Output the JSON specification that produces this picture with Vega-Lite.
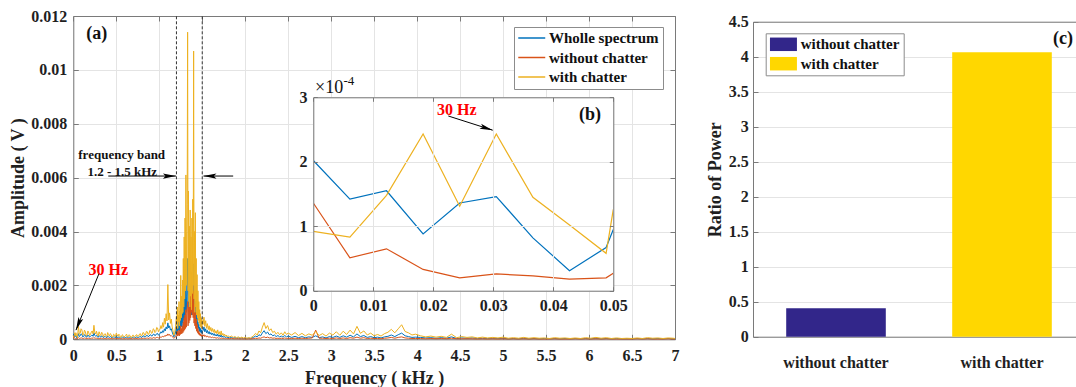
{
"$schema":"https://vega.github.io/schema/vega-lite/v6.json",
"width":1076,"height":387,"autosize":{"type":"none"},"padding":0,"background":"#ffffff",
"config":{"view":{"stroke":null},"font":"Liberation Serif",
"axis":{"labelFont":"Liberation Serif","labelFontWeight":"bold","labelFontSize":16,"labelColor":"#1f1f1f","titleFont":"Liberation Serif","titleFontWeight":"bold","titleFontSize":18,"titleColor":"#1f1f1f","domainColor":"#7a7a7a","tickColor":"#7a7a7a","gridColor":"#e4e4e4","labelFlush":false,"labelOverlap":false,"domainWidth":1,"tickWidth":1,"gridWidth":1},
"text":{"font":"Liberation Serif","fontWeight":"bold"}},
"datasets":{
"spec":[
{"f":0,"w":2.02,"o":1.36,"c":0.92},
{"f":0.0061,"w":1.42,"o":0.51,"c":0.83},
{"f":0.0122,"w":1.55,"o":0.65,"c":1.48},
{"f":0.0183,"w":0.88,"o":0.33,"c":2.43},
{"f":0.0244,"w":1.36,"o":0.2,"c":1.31},
{"f":0.0305,"w":1.46,"o":0.26,"c":2.43},
{"f":0.0366,"w":0.82,"o":0.23,"c":1.45},
{"f":0.0427,"w":0.31,"o":0.18,"c":1.02},
{"f":0.0488,"w":0.67,"o":0.2,"c":0.58},
{"f":0.05,"w":0.95,"o":0.27,"c":1.26},
{"f":0.06,"w":2.1,"o":0.6,"c":4.8},
{"f":0.07,"w":1.0,"o":0.3,"c":1.9},
{"f":0.08,"w":1.3,"o":0.4,"c":2.2},
{"f":0.09,"w":2.0,"o":0.5,"c":3.9},
{"f":0.1,"w":1.8,"o":0.5,"c":3.5},
{"f":0.11,"w":0.9,"o":0.3,"c":1.6},
{"f":0.12,"w":1.0,"o":0.3,"c":1.8},
{"f":0.13,"w":1.7,"o":0.5,"c":3.4},
{"f":0.14,"w":1.5,"o":0.4,"c":2.9},
{"f":0.15,"w":0.8,"o":0.3,"c":1.3},
{"f":0.16,"w":0.9,"o":0.3,"c":1.5},
{"f":0.17,"w":1.6,"o":0.4,"c":3.1},
{"f":0.18,"w":1.3,"o":0.4,"c":2.4},
{"f":0.19,"w":0.8,"o":0.3,"c":1.4},
{"f":0.2,"w":1.1,"o":0.3,"c":1.9},
{"f":0.21,"w":1.4,"o":0.4,"c":2.7},
{"f":0.22,"w":1.6,"o":0.5,"c":3.1},
{"f":0.23,"w":1.1,"o":0.3,"c":2.0},
{"f":0.24,"w":2.4,"o":0.7,"c":5.2},
{"f":0.25,"w":1.4,"o":0.4,"c":2.6},
{"f":0.26,"w":1.2,"o":0.4,"c":2.0},
{"f":0.27,"w":1.5,"o":0.4,"c":3.0},
{"f":0.28,"w":0.9,"o":0.3,"c":1.6},
{"f":0.29,"w":0.7,"o":0.2,"c":1.2},
{"f":0.3,"w":1.4,"o":0.4,"c":2.8},
{"f":0.31,"w":1.0,"o":0.3,"c":1.9},
{"f":0.32,"w":0.8,"o":0.3,"c":1.4},
{"f":0.33,"w":1.3,"o":0.4,"c":2.6},
{"f":0.34,"w":1.1,"o":0.3,"c":2.2},
{"f":0.35,"w":0.6,"o":0.2,"c":1.0},
{"f":0.36,"w":0.9,"o":0.3,"c":1.7},
{"f":0.37,"w":1.1,"o":0.3,"c":2.1},
{"f":0.38,"w":0.7,"o":0.2,"c":1.3},
{"f":0.39,"w":0.6,"o":0.2,"c":1.0},
{"f":0.4,"w":1.2,"o":0.4,"c":2.5},
{"f":0.41,"w":0.9,"o":0.3,"c":1.7},
{"f":0.42,"w":0.7,"o":0.2,"c":1.2},
{"f":0.43,"w":1.0,"o":0.3,"c":2.1},
{"f":0.44,"w":0.9,"o":0.3,"c":1.8},
{"f":0.45,"w":0.5,"o":0.2,"c":0.8},
{"f":0.46,"w":0.6,"o":0.2,"c":1.0},
{"f":0.47,"w":0.9,"o":0.3,"c":1.9},
{"f":0.48,"w":0.8,"o":0.3,"c":1.6},
{"f":0.49,"w":0.5,"o":0.2,"c":0.9},
{"f":0.5,"w":1.1,"o":0.3,"c":2.3},
{"f":0.51,"w":0.8,"o":0.3,"c":1.6},
{"f":0.52,"w":0.6,"o":0.2,"c":1.1},
{"f":0.53,"w":0.9,"o":0.3,"c":1.9},
{"f":0.54,"w":0.8,"o":0.3,"c":1.5},
{"f":0.55,"w":0.4,"o":0.2,"c":0.7},
{"f":0.56,"w":0.5,"o":0.2,"c":0.9},
{"f":0.57,"w":0.8,"o":0.2,"c":1.7},
{"f":0.58,"w":0.7,"o":0.2,"c":1.4},
{"f":0.59,"w":0.4,"o":0.2,"c":0.8},
{"f":0.6,"w":0.6,"o":0.2,"c":1.2},
{"f":0.61,"w":0.7,"o":0.2,"c":1.5},
{"f":0.62,"w":0.9,"o":0.3,"c":1.9},
{"f":0.63,"w":0.5,"o":0.2,"c":0.9},
{"f":0.64,"w":0.5,"o":0.2,"c":1.0},
{"f":0.65,"w":0.8,"o":0.3,"c":1.7},
{"f":0.66,"w":0.7,"o":0.2,"c":1.3},
{"f":0.67,"w":0.4,"o":0.2,"c":0.7},
{"f":0.68,"w":0.5,"o":0.2,"c":0.8},
{"f":0.69,"w":0.7,"o":0.2,"c":1.5},
{"f":0.7,"w":0.8,"o":0.3,"c":1.5},
{"f":0.71,"w":0.5,"o":0.2,"c":0.8},
{"f":0.72,"w":0.6,"o":0.2,"c":1.1},
{"f":0.73,"w":0.8,"o":0.3,"c":1.6},
{"f":0.74,"w":0.9,"o":0.3,"c":1.7},
{"f":0.75,"w":0.6,"o":0.2,"c":1.0},
{"f":0.76,"w":0.7,"o":0.2,"c":1.2},
{"f":0.77,"w":0.9,"o":0.3,"c":1.9},
{"f":0.78,"w":1.1,"o":0.4,"c":2.1},
{"f":0.79,"w":0.7,"o":0.2,"c":1.3},
{"f":0.8,"w":0.8,"o":0.3,"c":1.4},
{"f":0.81,"w":1.2,"o":0.4,"c":2.5},
{"f":0.82,"w":1.3,"o":0.4,"c":2.4},
{"f":0.83,"w":0.8,"o":0.3,"c":1.5},
{"f":0.84,"w":0.9,"o":0.3,"c":1.6},
{"f":0.85,"w":1.4,"o":0.4,"c":2.9},
{"f":0.86,"w":1.5,"o":0.5,"c":2.8},
{"f":0.87,"w":1.0,"o":0.3,"c":1.8},
{"f":0.88,"w":1.1,"o":0.4,"c":2.0},
{"f":0.89,"w":1.6,"o":0.5,"c":3.3},
{"f":0.9,"w":1.7,"o":0.5,"c":3.2},
{"f":0.91,"w":1.2,"o":0.4,"c":2.2},
{"f":0.92,"w":1.3,"o":0.4,"c":2.4},
{"f":0.93,"w":1.9,"o":0.6,"c":3.9},
{"f":0.94,"w":1.9,"o":0.6,"c":3.6},
{"f":0.95,"w":1.3,"o":0.4,"c":2.5},
{"f":0.96,"w":1.6,"o":0.5,"c":2.9},
{"f":0.97,"w":2.1,"o":0.7,"c":4.4},
{"f":0.98,"w":2.2,"o":0.7,"c":4.2},
{"f":0.99,"w":1.5,"o":0.5,"c":2.8},
{"f":1.0,"w":1.9,"o":0.6,"c":3.4},
{"f":1.01,"w":2.1,"o":0.7,"c":3.8},
{"f":1.02,"w":2.8,"o":0.9,"c":5.1},
{"f":1.03,"w":2.3,"o":0.8,"c":4.0},
{"f":1.04,"w":3.2,"o":1.1,"c":6.2},
{"f":1.05,"w":2.6,"o":0.9,"c":4.5},
{"f":1.06,"w":3.9,"o":1.3,"c":7.8},
{"f":1.07,"w":3.1,"o":1.1,"c":5.6},
{"f":1.08,"w":4.6,"o":1.6,"c":9.5},
{"f":1.09,"w":3.8,"o":1.3,"c":6.8},
{"f":1.1,"w":6.1,"o":2.0,"c":20.3},
{"f":1.11,"w":4.2,"o":1.5,"c":7.2},
{"f":1.12,"w":5.0,"o":1.8,"c":9.8},
{"f":1.13,"w":3.4,"o":1.2,"c":5.9},
{"f":1.14,"w":3.9,"o":1.4,"c":7.5},
{"f":1.15,"w":2.7,"o":1.0,"c":4.6},
{"f":1.16,"w":1.8,"o":0.7,"c":3.1},
{"f":1.17,"w":0.9,"o":0.4,"c":1.5},
{"f":1.18,"w":1.5,"o":0.6,"c":2.6},
{"f":1.19,"w":2.7,"o":1.0,"c":4.8},
{"f":1.2,"w":4.6,"o":1.8,"c":8.5},
{"f":1.205,"w":3.0,"o":1.5,"c":5.5},
{"f":1.21,"w":6.5,"o":3.0,"c":12.0},
{"f":1.215,"w":2.5,"o":1.2,"c":4.0},
{"f":1.22,"w":5.0,"o":2.5,"c":9.0},
{"f":1.225,"w":3.5,"o":1.5,"c":6.5},
{"f":1.23,"w":7.0,"o":3.5,"c":14.0},
{"f":1.235,"w":3.0,"o":1.3,"c":5.0},
{"f":1.24,"w":5.5,"o":2.8,"c":10.5},
{"f":1.245,"w":4.0,"o":1.8,"c":7.0},
{"f":1.25,"w":11.0,"o":5.0,"c":23.7},
{"f":1.255,"w":4.5,"o":2.0,"c":8.0},
{"f":1.26,"w":8.0,"o":4.0,"c":16.0},
{"f":1.265,"w":5.0,"o":2.2,"c":9.5},
{"f":1.27,"w":10.0,"o":5.0,"c":22.0},
{"f":1.275,"w":6.0,"o":2.5,"c":10.0},
{"f":1.28,"w":13.0,"o":6.5,"c":30.0},
{"f":1.285,"w":7.0,"o":3.0,"c":12.0},
{"f":1.29,"w":15.0,"o":8.0,"c":38.0},
{"f":1.295,"w":8.0,"o":3.5,"c":15.0},
{"f":1.3,"w":18.0,"o":9.0,"c":45.0},
{"f":1.305,"w":9.0,"o":4.0,"c":18.0},
{"f":1.31,"w":22.0,"o":11.0,"c":61.0},
{"f":1.315,"w":10.0,"o":4.5,"c":20.0},
{"f":1.32,"w":16.0,"o":9.0,"c":40.0},
{"f":1.325,"w":19.0,"o":12.0,"c":50.0},
{"f":1.33,"w":30.0,"o":14.0,"c":114.0},
{"f":1.335,"w":12.0,"o":5.0,"c":18.0},
{"f":1.34,"w":25.0,"o":12.0,"c":55.0},
{"f":1.345,"w":41.0,"o":6.0,"c":14.0},
{"f":1.35,"w":15.0,"o":15.0,"c":42.0},
{"f":1.355,"w":10.0,"o":7.0,"c":12.0},
{"f":1.36,"w":20.0,"o":19.0,"c":48.0},
{"f":1.365,"w":12.0,"o":8.0,"c":16.0},
{"f":1.37,"w":18.0,"o":21.0,"c":38.0},
{"f":1.375,"w":9.0,"o":10.0,"c":11.0},
{"f":1.38,"w":17.0,"o":25.0,"c":45.0},
{"f":1.385,"w":11.0,"o":9.0,"c":17.0},
{"f":1.39,"w":19.0,"o":20.0,"c":52.0},
{"f":1.395,"w":13.0,"o":8.0,"c":20.0},
{"f":1.4,"w":28.0,"o":18.0,"c":107.0},
{"f":1.405,"w":12.0,"o":6.0,"c":15.0},
{"f":1.41,"w":15.0,"o":13.0,"c":40.0},
{"f":1.415,"w":8.0,"o":5.0,"c":10.0},
{"f":1.42,"w":14.0,"o":10.0,"c":47.0},
{"f":1.425,"w":7.0,"o":4.0,"c":12.0},
{"f":1.43,"w":10.0,"o":7.5,"c":30.0},
{"f":1.435,"w":5.5,"o":3.0,"c":9.0},
{"f":1.44,"w":8.0,"o":5.5,"c":24.0},
{"f":1.445,"w":4.5,"o":2.5,"c":8.0},
{"f":1.45,"w":6.5,"o":4.0,"c":18.0},
{"f":1.455,"w":4.0,"o":2.0,"c":7.0},
{"f":1.46,"w":5.5,"o":3.0,"c":14.0},
{"f":1.465,"w":3.0,"o":1.6,"c":6.0},
{"f":1.47,"w":4.5,"o":2.4,"c":11.0},
{"f":1.475,"w":2.8,"o":1.4,"c":5.0},
{"f":1.48,"w":4.0,"o":2.0,"c":9.5},
{"f":1.485,"w":2.5,"o":1.2,"c":4.5},
{"f":1.49,"w":3.5,"o":1.7,"c":8.0},
{"f":1.495,"w":2.2,"o":1.0,"c":4.0},
{"f":1.5,"w":3.0,"o":1.5,"c":7.0},
{"f":1.51,"w":3.2,"o":1.2,"c":5.5},
{"f":1.52,"w":4.6,"o":1.7,"c":8.2},
{"f":1.53,"w":2.8,"o":1.0,"c":4.8},
{"f":1.54,"w":3.9,"o":1.4,"c":6.9},
{"f":1.55,"w":2.4,"o":0.9,"c":4.1},
{"f":1.56,"w":3.3,"o":1.2,"c":5.8},
{"f":1.57,"w":2.1,"o":0.8,"c":3.6},
{"f":1.58,"w":2.9,"o":1.0,"c":5.0},
{"f":1.59,"w":1.9,"o":0.7,"c":3.2},
{"f":1.6,"w":2.5,"o":0.9,"c":4.4},
{"f":1.61,"w":1.7,"o":0.6,"c":2.9},
{"f":1.62,"w":2.3,"o":0.8,"c":4.0},
{"f":1.63,"w":1.5,"o":0.6,"c":2.6},
{"f":1.64,"w":2.1,"o":0.7,"c":3.7},
{"f":1.65,"w":1.3,"o":0.5,"c":2.3},
{"f":1.66,"w":1.8,"o":0.6,"c":3.2},
{"f":1.67,"w":1.2,"o":0.4,"c":2.1},
{"f":1.68,"w":1.9,"o":0.6,"c":3.5},
{"f":1.69,"w":1.1,"o":0.4,"c":1.9},
{"f":1.7,"w":1.6,"o":0.5,"c":2.8},
{"f":1.71,"w":0.9,"o":0.3,"c":1.6},
{"f":1.72,"w":1.7,"o":0.5,"c":3.1},
{"f":1.73,"w":0.8,"o":0.3,"c":1.5},
{"f":1.74,"w":1.2,"o":0.4,"c":2.2},
{"f":1.75,"w":0.7,"o":0.3,"c":1.3},
{"f":1.76,"w":1.0,"o":0.3,"c":1.9},
{"f":1.77,"w":0.6,"o":0.2,"c":1.1},
{"f":1.78,"w":0.9,"o":0.3,"c":1.6},
{"f":1.79,"w":0.6,"o":0.2,"c":1.0},
{"f":1.8,"w":0.7,"o":0.3,"c":1.3},
{"f":1.82,"w":0.5,"o":0.2,"c":0.9},
{"f":1.84,"w":0.7,"o":0.3,"c":1.2},
{"f":1.86,"w":0.4,"o":0.2,"c":0.7},
{"f":1.88,"w":0.6,"o":0.2,"c":1.0},
{"f":1.9,"w":0.4,"o":0.2,"c":0.6},
{"f":1.92,"w":0.5,"o":0.2,"c":0.9},
{"f":1.94,"w":0.3,"o":0.1,"c":0.5},
{"f":1.96,"w":0.5,"o":0.2,"c":0.8},
{"f":1.98,"w":0.3,"o":0.1,"c":0.5},
{"f":2.0,"w":0.4,"o":0.2,"c":0.7},
{"f":2.02,"w":0.3,"o":0.1,"c":0.4},
{"f":2.04,"w":0.4,"o":0.2,"c":0.6},
{"f":2.06,"w":0.3,"o":0.1,"c":0.5},
{"f":2.08,"w":0.5,"o":0.2,"c":0.9},
{"f":2.1,"w":0.8,"o":0.3,"c":1.4},
{"f":2.12,"w":1.2,"o":0.4,"c":2.2},
{"f":2.14,"w":0.9,"o":0.3,"c":1.6},
{"f":2.16,"w":1.7,"o":0.5,"c":3.1},
{"f":2.18,"w":1.3,"o":0.4,"c":2.4},
{"f":2.2,"w":2.4,"o":0.7,"c":4.5},
{"f":2.22,"w":3.2,"o":0.9,"c":6.2},
{"f":2.24,"w":2.1,"o":0.6,"c":4.0},
{"f":2.26,"w":2.7,"o":0.8,"c":5.1},
{"f":2.28,"w":1.7,"o":0.5,"c":3.2},
{"f":2.3,"w":2.0,"o":0.6,"c":3.9},
{"f":2.32,"w":1.3,"o":0.4,"c":2.5},
{"f":2.34,"w":1.6,"o":0.5,"c":3.0},
{"f":2.36,"w":1.0,"o":0.3,"c":1.9},
{"f":2.38,"w":1.4,"o":0.4,"c":2.6},
{"f":2.4,"w":0.9,"o":0.3,"c":1.7},
{"f":2.42,"w":1.2,"o":0.4,"c":2.4},
{"f":2.44,"w":0.8,"o":0.3,"c":1.5},
{"f":2.46,"w":1.4,"o":0.5,"c":2.8},
{"f":2.48,"w":0.9,"o":0.3,"c":1.8},
{"f":2.5,"w":1.2,"o":0.4,"c":2.3},
{"f":2.54,"w":0.7,"o":0.3,"c":1.6},
{"f":2.58,"w":1.1,"o":0.4,"c":2.5},
{"f":2.62,"w":0.6,"o":0.3,"c":1.4},
{"f":2.66,"w":1.0,"o":0.4,"c":2.2},
{"f":2.7,"w":0.6,"o":0.3,"c":1.3},
{"f":2.74,"w":0.9,"o":0.4,"c":2.0},
{"f":2.78,"w":0.7,"o":0.5,"c":1.5},
{"f":2.82,"w":1.3,"o":3.4,"c":2.9},
{"f":2.86,"w":0.6,"o":0.4,"c":1.4},
{"f":2.9,"w":0.9,"o":0.4,"c":2.1},
{"f":2.94,"w":0.5,"o":0.3,"c":1.2},
{"f":2.98,"w":1.0,"o":0.4,"c":2.3},
{"f":3.02,"w":0.7,"o":0.3,"c":1.6},
{"f":3.06,"w":1.2,"o":0.5,"c":2.8},
{"f":3.1,"w":0.7,"o":0.3,"c":1.5},
{"f":3.14,"w":1.3,"o":0.5,"c":3.0},
{"f":3.18,"w":0.8,"o":0.3,"c":1.8},
{"f":3.22,"w":1.5,"o":0.6,"c":3.4},
{"f":3.26,"w":0.9,"o":0.4,"c":2.0},
{"f":3.3,"w":2.0,"o":0.8,"c":4.8},
{"f":3.34,"w":1.0,"o":0.4,"c":2.2},
{"f":3.38,"w":1.4,"o":0.6,"c":3.1},
{"f":3.42,"w":0.7,"o":0.3,"c":1.6},
{"f":3.46,"w":1.0,"o":0.4,"c":2.3},
{"f":3.5,"w":0.6,"o":0.3,"c":1.3},
{"f":3.54,"w":0.8,"o":0.3,"c":1.8},
{"f":3.58,"w":0.5,"o":0.2,"c":1.2},
{"f":3.62,"w":0.9,"o":0.4,"c":2.1},
{"f":3.66,"w":1.1,"o":0.5,"c":2.6},
{"f":3.7,"w":1.6,"o":0.7,"c":3.7},
{"f":3.74,"w":1.0,"o":0.4,"c":2.4},
{"f":3.78,"w":1.7,"o":0.7,"c":3.9},
{"f":3.82,"w":2.3,"o":0.9,"c":5.4},
{"f":3.86,"w":1.3,"o":0.5,"c":2.9},
{"f":3.9,"w":1.0,"o":0.4,"c":2.4},
{"f":3.94,"w":0.7,"o":0.3,"c":1.6},
{"f":3.98,"w":0.8,"o":0.3,"c":1.9},
{"f":4.04,"w":0.7,"o":0.3,"c":1.3},
{"f":4.1,"w":0.5,"o":0.2,"c":0.9},
{"f":4.16,"w":0.6,"o":0.3,"c":1.2},
{"f":4.22,"w":0.4,"o":0.2,"c":0.8},
{"f":4.28,"w":0.6,"o":0.3,"c":1.1},
{"f":4.34,"w":0.4,"o":0.2,"c":0.7},
{"f":4.4,"w":0.9,"o":0.4,"c":1.9},
{"f":4.46,"w":0.3,"o":0.2,"c":0.6},
{"f":4.52,"w":0.5,"o":0.2,"c":1.0},
{"f":4.58,"w":0.4,"o":0.2,"c":0.7},
{"f":4.64,"w":0.5,"o":0.2,"c":0.9},
{"f":4.7,"w":0.3,"o":0.1,"c":0.5},
{"f":4.76,"w":0.4,"o":0.2,"c":0.8},
{"f":4.82,"w":0.3,"o":0.1,"c":0.5},
{"f":4.88,"w":0.4,"o":0.2,"c":0.7},
{"f":4.94,"w":0.3,"o":0.1,"c":0.5},
{"f":5.0,"w":0.4,"o":0.2,"c":0.8},
{"f":5.06,"w":0.2,"o":0.1,"c":0.4},
{"f":5.12,"w":0.3,"o":0.2,"c":0.6},
{"f":5.18,"w":0.2,"o":0.1,"c":0.4},
{"f":5.24,"w":0.4,"o":0.2,"c":0.7},
{"f":5.3,"w":0.2,"o":0.1,"c":0.4},
{"f":5.36,"w":0.3,"o":0.2,"c":0.6},
{"f":5.42,"w":0.2,"o":0.1,"c":0.4},
{"f":5.48,"w":0.3,"o":0.1,"c":0.5},
{"f":5.54,"w":0.2,"o":0.1,"c":0.3},
{"f":5.6,"w":0.3,"o":0.2,"c":0.6},
{"f":5.66,"w":0.2,"o":0.1,"c":0.4},
{"f":5.72,"w":0.3,"o":0.1,"c":0.5},
{"f":5.78,"w":0.2,"o":0.1,"c":0.3},
{"f":5.84,"w":0.3,"o":0.2,"c":0.5},
{"f":5.9,"w":0.2,"o":0.1,"c":0.3},
{"f":5.96,"w":0.3,"o":0.2,"c":0.6},
{"f":6.02,"w":0.2,"o":0.1,"c":0.4},
{"f":6.08,"w":0.4,"o":0.2,"c":0.7},
{"f":6.14,"w":0.2,"o":0.1,"c":0.4},
{"f":6.2,"w":0.3,"o":0.2,"c":0.6},
{"f":6.26,"w":0.2,"o":0.1,"c":0.3},
{"f":6.32,"w":0.3,"o":0.1,"c":0.5},
{"f":6.38,"w":0.2,"o":0.1,"c":0.3},
{"f":6.44,"w":0.2,"o":0.1,"c":0.4},
{"f":6.5,"w":0.2,"o":0.1,"c":0.3},
{"f":6.56,"w":0.3,"o":0.2,"c":0.5},
{"f":6.62,"w":0.2,"o":0.1,"c":0.3},
{"f":6.68,"w":0.3,"o":0.2,"c":0.6},
{"f":6.74,"w":0.2,"o":0.1,"c":0.4},
{"f":6.8,"w":0.3,"o":0.1,"c":0.5},
{"f":6.86,"w":0.2,"o":0.1,"c":0.3},
{"f":6.92,"w":0.3,"o":0.2,"c":0.5},
{"f":6.98,"w":0.2,"o":0.1,"c":0.4},
{"f":7.0,"w":0.2,"o":0.1,"c":0.3}
],
"ratio":[{"cat":"without chatter","r":0.406},{"cat":"with chatter","r":4.063}]
},
"layer":[
{
"layer":[
{"data":{"name":"spec"},"transform":[{"fold":["w","o","c"],"as":["s","v"]}],
"mark":{"type":"line","strokeWidth":1},
"encoding":{
"x":{"field":"f","type":"quantitative","scale":{"domain":[0,7],"range":[73.3,675],"nice":false,"zero":false},
"axis":{"orient":"bottom","offset":-47.7,"values":[0,0.5,1,1.5,2,2.5,3,3.5,4,4.5,5,5.5,6,6.5,7],"format":"~g","grid":false,"tickSize":-5,"labelPadding":13.3,"title":"Frequency ( kHz )","titlePadding":6}},
"y":{"field":"v","type":"quantitative","scale":{"domain":[0,120],"range":[339.3,16],"nice":false,"zero":false},
"axis":{"orient":"left","offset":-73.3,"values":[0,20,40,60,80,100,120],"labelExpr":"datum.value == 0 ? '0' : format(datum.value / 10000, '.3~f')","grid":true,"tickSize":-5,"labelPadding":11.6,"title":"Amplitude ( V )","titlePadding":3}},
"color":{"field":"s","type":"nominal","scale":{"domain":["w","o","c"],"range":["#0072BD","#D95319","#EDB120"]},
"legend":{"orient":"none","legendX":514,"legendY":27,"direction":"vertical","title":null,"symbolType":"M-1,0H3","symbolSize":182,"symbolStrokeWidth":1.5,"labelOffset":16.5,"labelFont":"Liberation Serif","labelFontSize":15,"labelFontWeight":"bold","labelColor":"#111111","padding":3.5,"rowPadding":3.5,"strokeColor":"#8c8c8c","fillColor":"#ffffff","labelExpr":"datum.label == 'w' ? 'Wholle spectrum' : datum.label == 'o' ? 'without chatter' : 'with chatter'"}}
}},
{"data":{"values":[{"b":1.2},{"b":1.5}]},
"mark":{"type":"rule","strokeDash":[3,2],"color":"#333333","strokeWidth":1},
"encoding":{
"x":{"field":"b","type":"quantitative","scale":{"domain":[0,7],"range":[73.3,675],"nice":false,"zero":false},"axis":null},
"y":{"datum":0,"type":"quantitative","scale":{"domain":[0,120],"range":[339.3,16],"nice":false,"zero":false},"axis":null},
"y2":{"datum":120}}},
{"data":{"values":[{"x1":0.407,"y1":60.6,"x2":1.194,"y2":60.6},{"x1":1.86,"y1":60.6,"x2":1.514,"y2":60.6},{"x1":0.299,"y1":24.4,"x2":0.031,"y2":3.4}]},
"mark":{"type":"rule","color":"#000000","strokeWidth":1},
"encoding":{
"x":{"field":"x1","type":"quantitative","scale":{"domain":[0,7],"range":[73.3,675],"nice":false,"zero":false},"axis":null},
"y":{"field":"y1","type":"quantitative","scale":{"domain":[0,120],"range":[339.3,16],"nice":false,"zero":false},"axis":null},
"x2":{"field":"x2"},"y2":{"field":"y2"}}},
{"data":{"values":[{"x":1.194,"y":60.6}]},
"mark":{"type":"point","filled":true,"color":"#000000","opacity":1,"shape":"M0,0L-2,-0.4L-1.6,0L-2,0.4Z","size":169,"angle":0},
"encoding":{
"x":{"field":"x","type":"quantitative","scale":{"domain":[0,7],"range":[73.3,675],"nice":false,"zero":false},"axis":null},
"y":{"field":"y","type":"quantitative","scale":{"domain":[0,120],"range":[339.3,16],"nice":false,"zero":false},"axis":null}}},
{"data":{"values":[{"x":1.514,"y":60.6}]},
"mark":{"type":"point","filled":true,"color":"#000000","opacity":1,"shape":"M0,0L-2,-0.4L-1.6,0L-2,0.4Z","size":169,"angle":180},
"encoding":{
"x":{"field":"x","type":"quantitative","scale":{"domain":[0,7],"range":[73.3,675],"nice":false,"zero":false},"axis":null},
"y":{"field":"y","type":"quantitative","scale":{"domain":[0,120],"range":[339.3,16],"nice":false,"zero":false},"axis":null}}},
{"data":{"values":[{"x":0.031,"y":3.4}]},
"mark":{"type":"point","filled":true,"color":"#000000","opacity":1,"shape":"M0,0L-2,-0.4L-1.6,0L-2,0.4Z","size":169,"angle":112},
"encoding":{
"x":{"field":"x","type":"quantitative","scale":{"domain":[0,7],"range":[73.3,675],"nice":false,"zero":false},"axis":null},
"y":{"field":"y","type":"quantitative","scale":{"domain":[0,120],"range":[339.3,16],"nice":false,"zero":false},"axis":null}}},
{"data":{"values":[{"x":0.563,"y":68.3,"t":"frequency band"},{"x":0.57,"y":62.1,"t":"1.2 - 1.5 kHz"}]},
"mark":{"type":"text","fontSize":13,"fontWeight":"bold","color":"#111111"},
"encoding":{
"x":{"field":"x","type":"quantitative","scale":{"domain":[0,7],"range":[73.3,675],"nice":false,"zero":false},"axis":null},
"y":{"field":"y","type":"quantitative","scale":{"domain":[0,120],"range":[339.3,16],"nice":false,"zero":false},"axis":null},
"text":{"field":"t"}}},
{"data":{"values":[{"x":0.407,"y":25.7,"t":"30 Hz"}]},
"mark":{"type":"text","fontSize":16,"fontWeight":"bold","color":"#ff0000"},
"encoding":{
"x":{"field":"x","type":"quantitative","scale":{"domain":[0,7],"range":[73.3,675],"nice":false,"zero":false},"axis":null},
"y":{"field":"y","type":"quantitative","scale":{"domain":[0,120],"range":[339.3,16],"nice":false,"zero":false},"axis":null},
"text":{"field":"t"}}},
{"data":{"values":[{"x":0.272,"y":113.3,"t":"(a)"}]},
"mark":{"type":"text","fontSize":18,"fontWeight":"bold","color":"#111111"},
"encoding":{
"x":{"field":"x","type":"quantitative","scale":{"domain":[0,7],"range":[73.3,675],"nice":false,"zero":false},
"axis":{"orient":"top","offset":-16,"values":[0,0.5,1,1.5,2,2.5,3,3.5,4,4.5,5,5.5,6,6.5,7],"labels":false,"grid":true,"tickSize":-5,"title":null}},
"y":{"field":"y","type":"quantitative","scale":{"domain":[0,120],"range":[339.3,16],"nice":false,"zero":false},
"axis":{"orient":"right","offset":-401,"values":[0,20,40,60,80,100,120],"labels":false,"grid":false,"tickSize":-5,"title":null}},
"text":{"field":"t"}}}
],
"resolve":{"axis":{"x":"independent","y":"independent"}}
},
{
"layer":[
{"data":{"values":[{}]},
"mark":{"type":"rect","fill":"#ffffff","stroke":null},
"encoding":{
"x":{"datum":0,"type":"quantitative","scale":{"domain":[0,0.05],"range":[313.3,613.3],"nice":false,"zero":false},"axis":null},
"x2":{"datum":0.05},
"y":{"datum":0,"type":"quantitative","scale":{"domain":[0,3],"range":[290.7,97.3],"nice":false,"zero":false},"axis":null},
"y2":{"datum":3}}},
{"data":{"name":"spec"},"transform":[{"filter":"datum.f <= 0.05"},{"fold":["w","o","c"],"as":["s","v"]}],
"mark":{"type":"line","strokeWidth":1.2},
"encoding":{
"x":{"field":"f","type":"quantitative","scale":{"domain":[0,0.05],"range":[313.3,613.3],"nice":false,"zero":false},
"axis":{"orient":"bottom","offset":-96.3,"values":[0,0.01,0.02,0.03,0.04,0.05],"format":"~g","grid":false,"tickSize":-4,"labelPadding":10.9,"title":null,"zindex":1}},
"y":{"field":"v","type":"quantitative","scale":{"domain":[0,3],"range":[290.7,97.3],"nice":false,"zero":false},
"axis":{"orient":"left","offset":-313.3,"values":[0,1,2,3],"grid":true,"tickSize":-4,"labelPadding":10.3,"title":null,"zindex":1}},
"color":{"field":"s","type":"nominal","scale":{"domain":["w","o","c"],"range":["#0072BD","#D95319","#EDB120"]},"legend":null}
}},
{"data":{"values":[{"x1":0.0225,"y1":2.71,"x2":0.0299,"y2":2.49}]},
"mark":{"type":"rule","color":"#000000","strokeWidth":1},
"encoding":{
"x":{"field":"x1","type":"quantitative","scale":{"domain":[0,0.05],"range":[313.3,613.3],"nice":false,"zero":false},"axis":null},
"y":{"field":"y1","type":"quantitative","scale":{"domain":[0,3],"range":[290.7,97.3],"nice":false,"zero":false},"axis":null},
"x2":{"field":"x2"},"y2":{"field":"y2"}}},
{"data":{"values":[{"x":0.0299,"y":2.49}]},
"mark":{"type":"point","filled":true,"color":"#000000","opacity":1,"shape":"M0,0L-2,-0.4L-1.6,0L-2,0.4Z","size":169,"angle":18},
"encoding":{
"x":{"field":"x","type":"quantitative","scale":{"domain":[0,0.05],"range":[313.3,613.3],"nice":false,"zero":false},"axis":null},
"y":{"field":"y","type":"quantitative","scale":{"domain":[0,3],"range":[290.7,97.3],"nice":false,"zero":false},"axis":null}}},
{"data":{"values":[{"x":0.0239,"y":2.81,"t":"30 Hz"}]},
"mark":{"type":"text","fontSize":16,"fontWeight":"bold","color":"#ff0000"},
"encoding":{
"x":{"field":"x","type":"quantitative","scale":{"domain":[0,0.05],"range":[313.3,613.3],"nice":false,"zero":false},"axis":null},
"y":{"field":"y","type":"quantitative","scale":{"domain":[0,3],"range":[290.7,97.3],"nice":false,"zero":false},"axis":null},
"text":{"field":"t"}}},
{"data":{"values":[{"x":0.00028,"y":3.065,"t":"×10"}]},
"mark":{"type":"text","fontSize":18,"fontWeight":"normal","color":"#111111","align":"left","baseline":"alphabetic"},
"encoding":{
"x":{"field":"x","type":"quantitative","scale":{"domain":[0,0.05],"range":[313.3,613.3],"nice":false,"zero":false},"axis":null},
"y":{"field":"y","type":"quantitative","scale":{"domain":[0,3],"range":[290.7,97.3],"nice":false,"zero":false},"axis":null},
"text":{"field":"t"}}},
{"data":{"values":[{"x":0.00503,"y":3.19,"t":"-4"}]},
"mark":{"type":"text","fontSize":13,"fontWeight":"normal","color":"#111111","align":"left","baseline":"alphabetic"},
"encoding":{
"x":{"field":"x","type":"quantitative","scale":{"domain":[0,0.05],"range":[313.3,613.3],"nice":false,"zero":false},"axis":null},
"y":{"field":"y","type":"quantitative","scale":{"domain":[0,3],"range":[290.7,97.3],"nice":false,"zero":false},"axis":null},
"text":{"field":"t"}}},
{"data":{"values":[{"x":0.0461,"y":2.72,"t":"(b)"}]},
"mark":{"type":"text","fontSize":18,"fontWeight":"bold","color":"#111111"},
"encoding":{
"x":{"field":"x","type":"quantitative","scale":{"domain":[0,0.05],"range":[313.3,613.3],"nice":false,"zero":false},
"axis":{"orient":"top","offset":-97.3,"values":[0,0.01,0.02,0.03,0.04,0.05],"labels":false,"grid":true,"tickSize":-4,"title":null,"zindex":1}},
"y":{"field":"y","type":"quantitative","scale":{"domain":[0,3],"range":[290.7,97.3],"nice":false,"zero":false},
"axis":{"orient":"right","offset":-462.7,"values":[0,1,2,3],"labels":false,"grid":false,"tickSize":-4,"title":null,"zindex":1}},
"text":{"field":"t"}}}
],
"resolve":{"axis":{"x":"independent","y":"independent"}}
},
{
"layer":[
{"data":{"name":"ratio"},
"mark":{"type":"bar"},
"encoding":{
"x":{"field":"cat","type":"nominal","scale":{"domain":["without chatter","with chatter"],"range":[753,1085],"paddingInner":0.4,"paddingOuter":0.2},
"axis":{"orient":"bottom","offset":-50.3,"ticks":false,"labelPadding":17.6,"labelAngle":0,"title":null,"grid":false}},
"y":{"field":"r","type":"quantitative","scale":{"domain":[0,4.5],"range":[336.7,21.7],"nice":false,"zero":false},
"axis":{"orient":"left","offset":-753,"values":[0,0.5,1,1.5,2,2.5,3,3.5,4,4.5],"format":"~g","grid":true,"tickSize":-5,"labelPadding":9.7,"title":"Ratio of Power","titlePadding":4}},
"color":{"field":"cat","type":"nominal","scale":{"domain":["without chatter","with chatter"],"range":["#32268a","#ffd700"]},
"legend":{"orient":"none","legendX":765.7,"legendY":33.3,"direction":"vertical","title":null,"symbolType":"M-1,-1H3V1H-1Z","symbolSize":182,"symbolStrokeWidth":0,"labelOffset":16.5,"labelFont":"Liberation Serif","labelFontSize":15,"labelFontWeight":"bold","labelColor":"#111111","padding":3.5,"rowPadding":3.4,"strokeColor":"#8c8c8c","fillColor":"#ffffff"}}
}},
{"data":{"values":[{"cat":"with chatter","y":4.25,"t":"(c)"}]},
"mark":{"type":"text","fontSize":18,"fontWeight":"bold","color":"#111111","dx":61},
"encoding":{
"x":{"field":"cat","type":"nominal","scale":{"domain":["without chatter","with chatter"],"range":[753,1085],"paddingInner":0.4,"paddingOuter":0.2},
"axis":{"orient":"top","offset":-21.7,"labels":false,"ticks":false,"grid":false,"domain":true,"title":null}},
"y":{"field":"y","type":"quantitative","scale":{"domain":[0,4.5],"range":[336.7,21.7],"nice":false,"zero":false},"axis":null},
"text":{"field":"t"}}}
],
"resolve":{"axis":{"x":"independent","y":"independent"}}
}
],
"resolve":{"scale":{"x":"independent","y":"independent","color":"independent"},"axis":{"x":"independent","y":"independent"},"legend":{"color":"independent"}}
}
